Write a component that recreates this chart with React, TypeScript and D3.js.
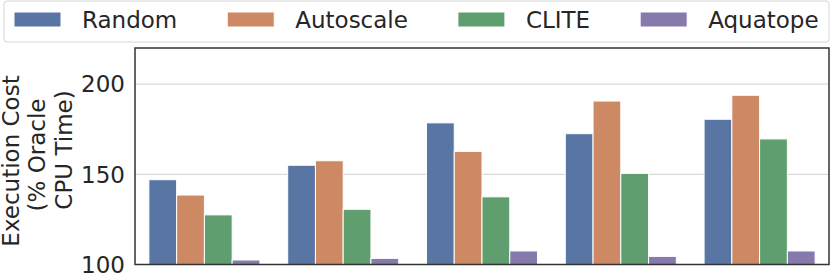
import React, { useEffect, useRef } from "react";
import * as d3 from "d3";

const categories = ["W1", "W2", "W3", "W4", "W5"];
const seriesNames = ["Random", "Autoscale", "CLITE", "Aquatope"];
const randomVals = [147, 155, 178.5, 172.5, 180.5];
const autoscaleVals = [138.5, 157.5, 162.7, 190.6, 193.8];
const cliteVals = [127.5, 130.6, 137.5, 150.5, 169.6];
const aquatopeVals = [102.5, 103.4, 107.5, 104.5, 107.5];
const yTicks = [100, 150, 200];
const colors = ["#5975a4", "#cc8963", "#5f9e6e", "#857aab"];

const W = 831;
const H = 279;
const FONT = "'DejaVu Sans', sans-serif";
const FS = 23;
const TXT = "#262626";

export default function App() {
  const ref = useRef<SVGSVGElement>(null);

  useEffect(() => {
    const svg = d3.select(ref.current);
    svg.selectAll("*").remove();

    const m = { left: 135, right: 829, top: 48, bottom: 264.5 };
    const series = [randomVals, autoscaleVals, cliteVals, aquatopeVals];

    const x0 = d3.scaleBand<string>().domain(categories).range([m.left, m.right]).paddingInner(0.2).paddingOuter(0.1);
    const x1 = d3.scaleBand<string>().domain(seriesNames).range([0, x0.bandwidth()]);
    const y = d3.scaleLinear().domain([100, 220]).range([m.bottom, m.top]);

    // grid
    svg.append("g")
      .selectAll("line")
      .data(yTicks.filter((t) => t > 100))
      .join("line")
      .attr("x1", m.left)
      .attr("x2", m.right)
      .attr("y1", (d) => y(d))
      .attr("y2", (d) => y(d))
      .attr("stroke", "#d9d9d9")
      .attr("stroke-width", 1.2);

    // bars
    const g = svg.append("g");
    series.forEach((vals, si) => {
      g.append("g")
        .selectAll("rect")
        .data(vals)
        .join("rect")
        .attr("x", (_d, i) => (x0(categories[i]) as number) + (x1(seriesNames[si]) as number))
        .attr("width", x1.bandwidth())
        .attr("y", (d) => y(d))
        .attr("height", (d) => y(100) - y(d))
        .attr("fill", colors[si])
        .attr("stroke", "#ffffff")
        .attr("stroke-width", 1);
    });

    // spines
    svg.append("rect")
      .attr("x", m.left)
      .attr("y", m.top)
      .attr("width", m.right - m.left)
      .attr("height", m.bottom - m.top)
      .attr("fill", "none")
      .attr("stroke", "#333333")
      .attr("stroke-width", 1.5);

    // y tick labels
    svg.append("g")
      .selectAll("text")
      .data(yTicks)
      .join("text")
      .attr("x", m.left - 10)
      .attr("y", (d) => y(d))
      .attr("dy", "0.36em")
      .attr("text-anchor", "end")
      .attr("font-family", FONT)
      .attr("font-size", FS)
      .attr("fill", TXT)
      .text((d) => String(d));

    // y label (three lines)
    const yLabelLines = ["Execution Cost", "(% Oracle", "CPU Time)"];
    const lineBase = [18.5, 45, 71.5];
    const lineCenter = [161, 155, 150];
    yLabelLines.forEach((t, i) => {
      svg.append("text")
        .attr("transform", `translate(${lineBase[i]},${lineCenter[i]}) rotate(-90)`)
        .attr("text-anchor", "middle")
        .attr("font-family", FONT)
        .attr("font-size", FS)
        .attr("fill", TXT)
        .text(t);
    });

    // legend
    const leg = svg.append("g");
    leg.append("rect")
      .attr("x", 4)
      .attr("y", 1)
      .attr("width", 825)
      .attr("height", 41)
      .attr("rx", 3)
      .attr("fill", "#ffffff")
      .attr("fill-opacity", 0.8)
      .attr("stroke", "#d6d6d6")
      .attr("stroke-width", 1);
    let cx = 14;
    seriesNames.forEach((name, i) => {
      leg.append("rect")
        .attr("x", cx)
        .attr("y", 12)
        .attr("width", 47)
        .attr("height", 15)
        .attr("fill", colors[i])
        .attr("stroke", "#ffffff")
        .attr("stroke-width", 1);
      const t = leg.append("text")
        .attr("x", cx + 68)
        .attr("y", 28)
        .attr("font-family", FONT)
        .attr("font-size", FS)
        .attr("fill", TXT)
        .text(name);
      const w = (t.node() as SVGTextElement).getComputedTextLength();
      cx = cx + 68 + w + 50;
    });
  }, []);

  return (
    <div style={{ position: "absolute", left: 0, top: 0 }}>
      <svg ref={ref} width={W} height={H} style={{ display: "block", background: "#ffffff" }} />
    </div>
  );
}
